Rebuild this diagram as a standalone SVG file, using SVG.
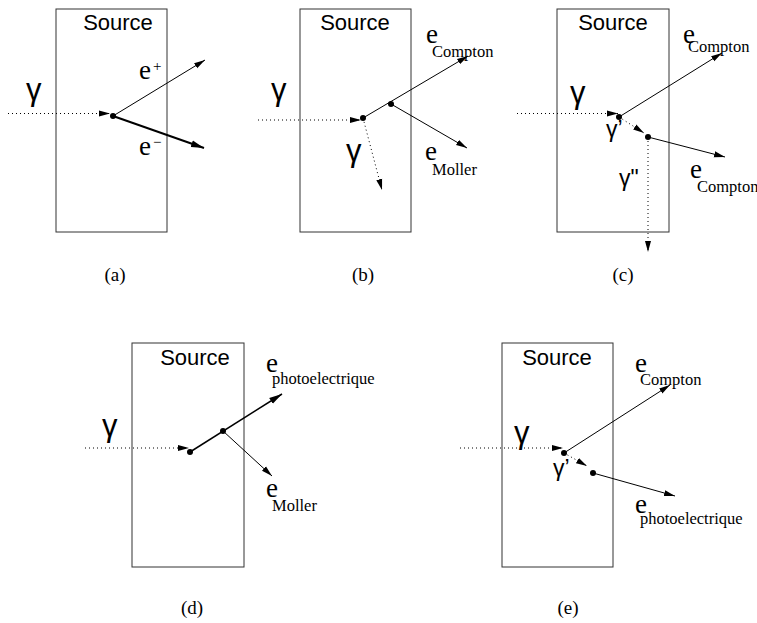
<svg xmlns="http://www.w3.org/2000/svg" width="757" height="623" viewBox="0 0 757 623">
<defs>
<marker id="ah" markerUnits="userSpaceOnUse" markerWidth="12" markerHeight="7" refX="11" refY="3.5" orient="auto" viewBox="0 0 12 7"><path d="M0,0.5 L11,3.5 L0,6.5 Z" fill="#000" stroke="none"/></marker>
<marker id="ahb" markerUnits="userSpaceOnUse" markerWidth="14" markerHeight="8" refX="13" refY="4" orient="auto" viewBox="0 0 14 8"><path d="M0,0.6 L13,4 L0,7.4 Z" fill="#000" stroke="none"/></marker>
</defs>
<style>
.box{fill:none;stroke:#333;stroke-width:1}
.src{font-family:"Liberation Sans",Arial,sans-serif;font-size:22px;text-anchor:middle;fill:#000}
.g{font-family:"Liberation Sans",Arial,sans-serif;font-size:31px;fill:#000}
.gs{font-family:"Liberation Sans",Arial,sans-serif;font-size:23px;fill:#000}
.e{font-family:"Liberation Serif","Times New Roman",serif;font-size:27px;fill:#000}
.sub{font-size:16.5px}
.sup{font-size:15px}
.cap{font-family:"Liberation Serif","Times New Roman",serif;font-size:19px;text-anchor:middle;fill:#000}
.a{stroke:#000;stroke-width:1;fill:none;marker-end:url(#ah)}
.ab{stroke:#000;stroke-width:2;fill:none;marker-end:url(#ahb)}
.am{stroke:#000;stroke-width:1.5;fill:none;marker-end:url(#ahb)}
.d{stroke:#000;stroke-width:1;stroke-dasharray:1 3;fill:none;marker-end:url(#ah)}
.dot{fill:#000}
</style>

<g id="panel-a">
<rect class="box" x="56" y="9" width="111" height="223"/>
<text class="src" x="118" y="30">Source</text>
<text class="g" x="26" y="100">γ</text>
<text class="e" x="139" y="79">e<tspan class="sup" dx="2" dy="-8">+</tspan></text>
<text class="e" x="139" y="155">e<tspan class="sup" dx="2" dy="-8">−</tspan></text>
<circle class="dot" cx="113" cy="116" r="3"/>
<text class="cap" x="115" y="281">(a)</text>
</g>

<g id="panel-b">
<rect class="box" x="300" y="9" width="111" height="223"/>
<text class="src" x="355" y="30">Source</text>
<text class="g" x="271" y="100">γ</text>
<text class="g" x="346" y="161">γ</text>
<text class="e" x="426" y="43">e<tspan class="sub" dx="-6" dy="14">Compton</tspan></text>
<text class="e" x="425" y="160">e<tspan class="sub" dx="-5" dy="15">Moller</tspan></text>
<circle class="dot" cx="363" cy="118" r="3"/>
<circle class="dot" cx="391" cy="104" r="3"/>
<text class="cap" x="363" y="281">(b)</text>
</g>

<g id="panel-c">
<rect class="box" x="557" y="9" width="112" height="223"/>
<text class="src" x="613" y="30">Source</text>
<text class="g" x="570" y="103">γ</text>
<text class="gs" x="606" y="137">γ’</text>
<text class="gs" x="619" y="186">γ"</text>
<text class="e" x="683" y="43">e<tspan class="sub" dx="-7" dy="9">Compton</tspan></text>
<text class="e" x="690" y="178">e<tspan class="sub" dx="-5" dy="14">Compton</tspan></text>
<circle class="dot" cx="619" cy="117" r="3"/>
<circle class="dot" cx="648" cy="137" r="3"/>
<text class="cap" x="623" y="281">(c)</text>
</g>

<g id="panel-d">
<rect class="box" x="132" y="343" width="112" height="224"/>
<text class="src" x="195" y="365">Source</text>
<text class="g" x="102" y="436">γ</text>
<text class="e" x="266" y="372">e<tspan class="sub" dx="-6" dy="12">photoelectrique</tspan></text>
<text class="e" x="266" y="497">e<tspan class="sub" dx="-6" dy="14">Moller</tspan></text>
<circle class="dot" cx="190" cy="452" r="3"/>
<circle class="dot" cx="223" cy="431" r="3"/>
<text class="cap" x="192" y="614">(d)</text>
</g>

<g id="panel-e">
<rect class="box" x="502" y="343" width="111" height="224"/>
<text class="src" x="557" y="365">Source</text>
<text class="g" x="514" y="443">γ</text>
<text class="gs" x="553" y="476">γ’</text>
<text class="e" x="635" y="372">e<tspan class="sub" dx="-7" dy="13">Compton</tspan></text>
<text class="e" x="635" y="513">e<tspan class="sub" dx="-7" dy="11">photoelectrique</tspan></text>
<circle class="dot" cx="564" cy="453" r="3"/>
<circle class="dot" cx="593" cy="473" r="3"/>
<text class="cap" x="568" y="614">(e)</text>
</g>

<g id="connectors">
<line class="d" x1="8" y1="113.5" x2="110" y2="113.5"/>
<line class="a" x1="113" y1="116" x2="205" y2="60"/>
<line class="ab" x1="113" y1="116" x2="204" y2="148"/>

<line class="d" x1="258" y1="120" x2="361" y2="120"/>
<line class="a" x1="363" y1="118" x2="468" y2="56"/>
<line class="a" x1="391" y1="104" x2="467" y2="148"/>
<line class="d" x1="363" y1="118" x2="382" y2="190"/>

<line class="d" x1="517" y1="113.5" x2="618" y2="113.5"/>
<line class="a" x1="619" y1="117" x2="722" y2="53"/>
<line class="d" x1="619" y1="117" x2="644" y2="133"/>
<line class="a" x1="648" y1="137" x2="725" y2="157"/>
<line class="d" x1="648" y1="137" x2="648" y2="252"/>

<line class="d" x1="85" y1="448" x2="189" y2="448"/>
<line class="am" x1="190" y1="452" x2="282" y2="394"/>
<line class="a" x1="223" y1="431" x2="272" y2="476"/>

<line class="d" x1="460" y1="448" x2="563" y2="448"/>
<line class="a" x1="564" y1="453" x2="670" y2="385"/>
<line class="d" x1="564" y1="453" x2="587" y2="466"/>
<line class="a" x1="593" y1="473" x2="675" y2="496"/>
</g>
</svg>
